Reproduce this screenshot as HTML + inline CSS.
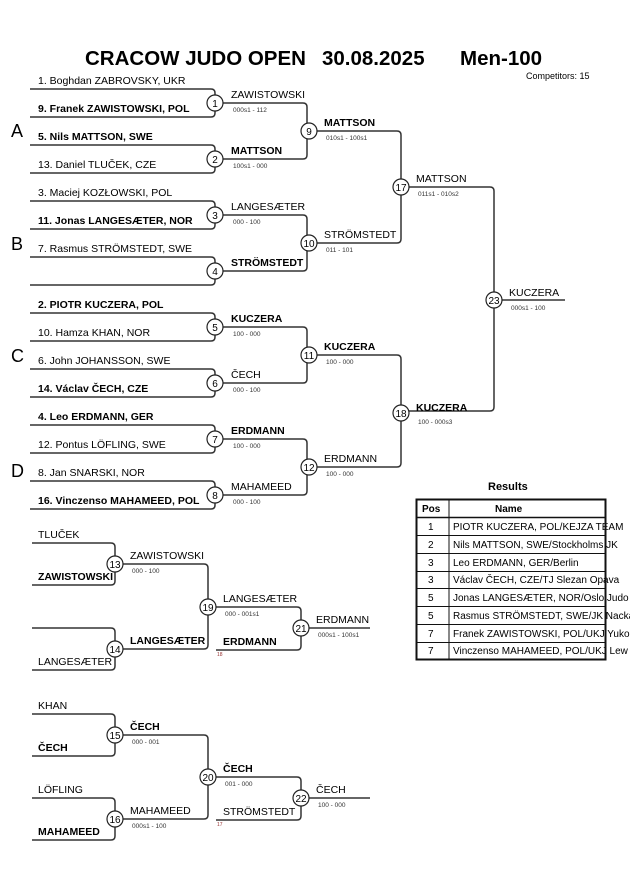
<!DOCTYPE html>
<html><head><meta charset="utf-8"><style>
html,body{margin:0;padding:0;background:#fff;width:630px;height:891px;overflow:hidden}
svg{display:block;font-family:"Liberation Sans",Arial,sans-serif}
.n{font-size:10.5px;fill:#000}
.b{font-size:10.5px;font-weight:bold;fill:#000}
.s{font-size:6.5px;fill:#333}
.c{font-size:10px;fill:#000;text-anchor:middle}
path{fill:none;stroke:#333;stroke-width:1.5}
circle{fill:#fff;stroke:#222;stroke-width:1.2}
</style></head><body>
<svg width="630" height="891" viewBox="0 0 630 891" xmlns="http://www.w3.org/2000/svg">
<g style="font-size:20.5px;font-weight:bold">
<text x="85" y="65">CRACOW JUDO OPEN</text><text x="322" y="65">30.08.2025</text><text x="460" y="65">Men-100</text>
</g>
<text x="526" y="79" style="font-size:9px">Competitors: 15</text>
<g style="font-size:18px">
<text x="11" y="137">A</text><text x="11" y="250">B</text><text x="11" y="362">C</text><text x="11" y="477">D</text>
</g>
<path d="M30 89H211Q215 89 215 93V113Q215 117 211 117H30"/>
<path d="M30 145H211Q215 145 215 149V169Q215 173 211 173H30"/>
<path d="M30 201H211Q215 201 215 205V225Q215 229 211 229H30"/>
<path d="M30 257H211Q215 257 215 261V281Q215 285 211 285H30"/>
<path d="M30 313H211Q215 313 215 317V337Q215 341 211 341H30"/>
<path d="M30 369H211Q215 369 215 373V393Q215 397 211 397H30"/>
<path d="M30 425H211Q215 425 215 429V449Q215 453 211 453H30"/>
<path d="M30 481H211Q215 481 215 485V505Q215 509 211 509H30"/>
<path d="M223 103H303Q307 103 307 107V155Q307 159 303 159H223"/>
<path d="M223 215H303Q307 215 307 219V267Q307 271 303 271H223"/>
<path d="M223 327H303Q307 327 307 331V379Q307 383 303 383H223"/>
<path d="M223 439H303Q307 439 307 443V491Q307 495 303 495H223"/>
<path d="M317 131H397Q401 131 401 135V239Q401 243 397 243H317"/>
<path d="M317 355H397Q401 355 401 359V463Q401 467 397 467H317"/>
<path d="M409 187H490Q494 187 494 191V407Q494 411 490 411H409"/>
<path d="M502 300H565"/>
<text class="n" x="38" y="84">1. Boghdan ZABROVSKY, UKR</text>
<text class="b" x="38" y="112">9. Franek ZAWISTOWSKI, POL</text>
<text class="b" x="38" y="140">5. Nils MATTSON, SWE</text>
<text class="n" x="38" y="168">13. Daniel TLUČEK, CZE</text>
<text class="n" x="38" y="196">3. Maciej KOZŁOWSKI, POL</text>
<text class="b" x="38" y="224">11. Jonas LANGESÆTER, NOR</text>
<text class="n" x="38" y="252">7. Rasmus STRÖMSTEDT, SWE</text>
<text class="b" x="38" y="308">2. PIOTR KUCZERA, POL</text>
<text class="n" x="38" y="336">10. Hamza KHAN, NOR</text>
<text class="n" x="38" y="364">6. John JOHANSSON, SWE</text>
<text class="b" x="38" y="392">14. Václav ČECH, CZE</text>
<text class="b" x="38" y="420">4. Leo ERDMANN, GER</text>
<text class="n" x="38" y="448">12. Pontus LÖFLING, SWE</text>
<text class="n" x="38" y="476">8. Jan SNARSKI, NOR</text>
<text class="b" x="38" y="504">16. Vinczenso MAHAMEED, POL</text>
<text class="n" x="231" y="98">ZAWISTOWSKI</text><text class="s" x="233" y="112">000s1 - 112</text>
<text class="b" x="231" y="154">MATTSON</text><text class="s" x="233" y="168">100s1 - 000</text>
<text class="n" x="231" y="210">LANGESÆTER</text><text class="s" x="233" y="224">000 - 100</text>
<text class="b" x="231" y="266">STRÖMSTEDT</text>
<text class="b" x="231" y="322">KUCZERA</text><text class="s" x="233" y="336">100 - 000</text>
<text class="n" x="231" y="378">ČECH</text><text class="s" x="233" y="392">000 - 100</text>
<text class="b" x="231" y="434">ERDMANN</text><text class="s" x="233" y="448">100 - 000</text>
<text class="n" x="231" y="490">MAHAMEED</text><text class="s" x="233" y="504">000 - 100</text>
<text class="b" x="324" y="126">MATTSON</text><text class="s" x="326" y="140">010s1 - 100s1</text>
<text class="n" x="324" y="238">STRÖMSTEDT</text><text class="s" x="326" y="252">011 - 101</text>
<text class="b" x="324" y="350">KUCZERA</text><text class="s" x="326" y="364">100 - 000</text>
<text class="n" x="324" y="462">ERDMANN</text><text class="s" x="326" y="476">100 - 000</text>
<text class="n" x="416" y="182">MATTSON</text><text class="s" x="418" y="196">011s1 - 010s2</text>
<text class="b" x="416" y="411">KUCZERA</text><text class="s" x="418" y="424">100 - 000s3</text>
<text class="n" x="509" y="296">KUCZERA</text><text class="s" x="511" y="310">000s1 - 100</text>
<g>
<circle cx="215" cy="103" r="8"/><text class="c" x="215" y="107">1</text>
<circle cx="215" cy="159" r="8"/><text class="c" x="215" y="163">2</text>
<circle cx="215" cy="215" r="8"/><text class="c" x="215" y="219">3</text>
<circle cx="215" cy="271" r="8"/><text class="c" x="215" y="275">4</text>
<circle cx="215" cy="327" r="8"/><text class="c" x="215" y="331">5</text>
<circle cx="215" cy="383" r="8"/><text class="c" x="215" y="387">6</text>
<circle cx="215" cy="439" r="8"/><text class="c" x="215" y="443">7</text>
<circle cx="215" cy="495" r="8"/><text class="c" x="215" y="499">8</text>
<circle cx="309" cy="131" r="8"/><text class="c" x="309" y="135">9</text>
<circle cx="309" cy="243" r="8"/><text class="c" x="309" y="247">10</text>
<circle cx="309" cy="355" r="8"/><text class="c" x="309" y="359">11</text>
<circle cx="309" cy="467" r="8"/><text class="c" x="309" y="471">12</text>
<circle cx="401" cy="187" r="8"/><text class="c" x="401" y="191">17</text>
<circle cx="401" cy="413" r="8"/><text class="c" x="401" y="417">18</text>
<circle cx="494" cy="300" r="8"/><text class="c" x="494" y="304">23</text>
</g>
<path d="M32 543H111Q115 543 115 547V581Q115 585 111 585H32"/>
<path d="M32 628H111Q115 628 115 632V666Q115 670 111 670H32"/>
<path d="M123 564H204Q208 564 208 568V645Q208 649 204 649H123"/>
<path d="M216 607H297Q301 607 301 611V646Q301 650 297 650H216"/>
<path d="M309 628H370"/>
<text class="n" x="38" y="538">TLUČEK</text>
<text class="b" x="38" y="580">ZAWISTOWSKI</text>
<text class="n" x="38" y="665">LANGESÆTER</text>
<text class="n" x="130" y="559">ZAWISTOWSKI</text><text class="s" x="132" y="573">000 - 100</text>
<text class="b" x="130" y="644">LANGESÆTER</text>
<text class="n" x="223" y="602">LANGESÆTER</text><text class="s" x="225" y="616">000 - 001s1</text>
<text class="b" x="223" y="645">ERDMANN</text><text x="217" y="656" style="font-size:5px;fill:#933">18</text>
<text class="n" x="316" y="623">ERDMANN</text><text class="s" x="318" y="637">000s1 - 100s1</text>
<circle cx="115" cy="564" r="8"/><text class="c" x="115" y="568">13</text>
<circle cx="115" cy="649" r="8"/><text class="c" x="115" y="653">14</text>
<circle cx="208" cy="607" r="8"/><text class="c" x="208" y="611">19</text>
<circle cx="301" cy="628" r="8"/><text class="c" x="301" y="632">21</text>
<path d="M32 714H111Q115 714 115 718V752Q115 756 111 756H32"/>
<path d="M32 798H111Q115 798 115 802V836Q115 840 111 840H32"/>
<path d="M123 735H204Q208 735 208 739V815Q208 819 204 819H123"/>
<path d="M216 777H297Q301 777 301 781V816Q301 820 297 820H216"/>
<path d="M309 798H370"/>
<text class="n" x="38" y="709">KHAN</text>
<text class="b" x="38" y="751">ČECH</text>
<text class="n" x="38" y="793">LÖFLING</text>
<text class="b" x="38" y="835">MAHAMEED</text>
<text class="b" x="130" y="730">ČECH</text><text class="s" x="132" y="744">000 - 001</text>
<text class="n" x="130" y="814">MAHAMEED</text><text class="s" x="132" y="828">000s1 - 100</text>
<text class="b" x="223" y="772">ČECH</text><text class="s" x="225" y="786">001 - 000</text>
<text class="n" x="223" y="815">STRÖMSTEDT</text><text x="217" y="826" style="font-size:5px;fill:#933">17</text>
<text class="n" x="316" y="793">ČECH</text><text class="s" x="318" y="807">100 - 000</text>
<circle cx="115" cy="735" r="8"/><text class="c" x="115" y="739">15</text>
<circle cx="115" cy="819" r="8"/><text class="c" x="115" y="823">16</text>
<circle cx="208" cy="777" r="8"/><text class="c" x="208" y="781">20</text>
<circle cx="301" cy="798" r="8"/><text class="c" x="301" y="802">22</text>
<text x="488" y="490" style="font-size:11px;font-weight:bold">Results</text>
<g style="font-size:10px">
<text x="422" y="512" font-weight="bold">Pos</text><text x="495" y="512" font-weight="bold">Name</text>
<text x="428" y="530">1</text><text x="453" y="530">PIOTR KUCZERA, POL/KEJZA TEAM</text>
<text x="428" y="548">2</text><text x="453" y="548">Nils MATTSON, SWE/Stockholms JK</text>
<text x="428" y="566">3</text><text x="453" y="566">Leo ERDMANN, GER/Berlin</text>
<text x="428" y="583">3</text><text x="453" y="583">Václav ČECH, CZE/TJ Slezan Opava</text>
<text x="428" y="601">5</text><text x="453" y="601">Jonas LANGESÆTER, NOR/Oslo Judo</text>
<text x="428" y="619">5</text><text x="453" y="619">Rasmus STRÖMSTEDT, SWE/JK Nacka</text>
<text x="428" y="637">7</text><text x="453" y="637">Franek ZAWISTOWSKI, POL/UKJ Yuko</text>
<text x="428" y="654">7</text><text x="453" y="654">Vinczenso MAHAMEED, POL/UKJ Lew</text>
</g>
<g style="stroke:#111;stroke-width:1;fill:none">
<rect x="416.5" y="499.5" width="189" height="160" style="stroke-width:2"/>
<line x1="449" y1="500" x2="449" y2="660"/>
<line x1="416" y1="517.5" x2="605" y2="517.5" style="stroke-width:1.5"/>
<line x1="416" y1="535.5" x2="605" y2="535.5"/>
<line x1="416" y1="553.5" x2="605" y2="553.5"/>
<line x1="416" y1="571.5" x2="605" y2="571.5"/>
<line x1="416" y1="588.5" x2="605" y2="588.5"/>
<line x1="416" y1="606.5" x2="605" y2="606.5"/>
<line x1="416" y1="624.5" x2="605" y2="624.5"/>
<line x1="416" y1="642.5" x2="605" y2="642.5"/>
</g>
</svg>
</body></html>
